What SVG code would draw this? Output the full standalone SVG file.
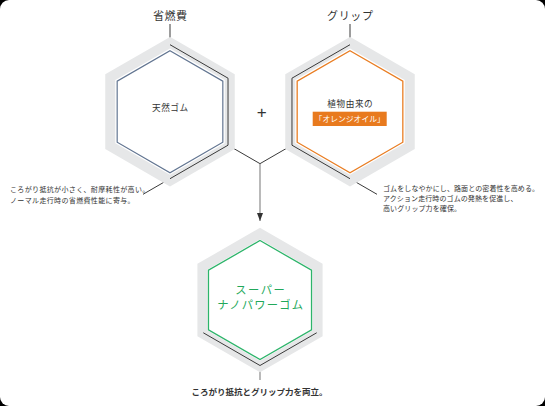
<svg xmlns="http://www.w3.org/2000/svg" width="545" height="406" viewBox="0 0 545 406">
<defs>
<style>
.band{fill:none;stroke:#e6e7e8;stroke-width:10;stroke-linejoin:miter}
.wire{fill:none;stroke:#3a3a3a;stroke-width:1}
.gwire{fill:none;stroke:#808080;stroke-width:1.1}
.jp{font-family:"Noto Sans CJK JP","Noto Sans",sans-serif;fill:#333}
.cap{font-size:7px;letter-spacing:0.35px}
.lbl{font-size:11px;letter-spacing:0.6px;text-anchor:middle}
</style>
<marker id="arr" viewBox="0 0 8 6" refX="8" refY="3" markerWidth="8" markerHeight="6" markerUnits="userSpaceOnUse" orient="auto">
<path d="M0,0 L8,3 L0,6 Z" fill="#333"/>
</marker>
</defs>
<rect width="545" height="406" fill="#000"/>
<rect width="545" height="406" rx="9" fill="#fff"/>

<g id="connectors">
<path class="wire" d="M170,24 V44.7 L228.02,78.2 V145.2 L143,194.3"/>
<path class="wire" d="M228.02,145.2 L260,163.66 L291.98,145.2"/>
<path class="wire" d="M350,24 V44.7 L291.98,78.2 V145.2 L377,194.3"/>
<path class="gwire" d="M260,163.66 V221" marker-end="url(#arr)"/>
<path class="wire" d="M203.28,332.75 L260,365.5 L316.72,332.75"/>
<path class="gwire" d="M260,365.5 V380"/>
</g>

<g id="node-left">
<polygon class="band" points="170,42.7 229.75,77.2 229.75,146.2 170,180.7 110.25,146.2 110.25,77.2"/>
<path class="wire" d="M170,44.7 L228.02,78.2 V145.2 L170,178.7"/>
<polygon fill="none" stroke="#627591" stroke-width="1.2" points="170,50.7 222.83,81.2 222.83,142.2 170,172.7 117.17,142.2 117.17,81.2"/>
<text class="jp lbl" x="170.3" y="20">省燃費</text>
<text class="jp" x="170.3" y="111" font-size="8.6" letter-spacing="0.5" text-anchor="middle">天然ゴム</text>
</g>

<g id="node-right">
<polygon class="band" points="350,42.7 409.75,77.2 409.75,146.2 350,180.7 290.25,146.2 290.25,77.2"/>
<path class="wire" d="M350,44.7 L291.98,78.2 V145.2 L350,178.7"/>
<polygon fill="none" stroke="#e97d22" stroke-width="1.3" points="350,50.7 402.83,81.2 402.83,142.2 350,172.7 297.17,142.2 297.17,81.2"/>
<text class="jp lbl" x="350.3" y="20">グリップ</text>
<text class="jp" x="350.3" y="107" font-size="8.6" letter-spacing="0.6" text-anchor="middle">植物由来の</text>
<rect x="312.7" y="111.7" width="74" height="14.3" fill="#e87a1e"/>
<text x="349.7" y="121.8" font-family="'Noto Sans CJK JP',sans-serif" font-size="7.8" fill="#fff" text-anchor="middle">「オレンジオイル」</text>
</g>

<g id="node-bottom">
<polygon class="band" points="260,233.5 317.59,266.75 317.59,333.25 260,366.5 202.41,333.25 202.41,266.75"/>
<path class="wire" d="M203.28,332.75 L260,365.5 L316.72,332.75"/>
<polygon fill="none" stroke="#2db46a" stroke-width="1.3" points="260,240.5 311.53,270.25 311.53,329.75 260,359.5 208.47,329.75 208.47,270.25"/>
<text class="jp" x="260.8" y="294" font-size="11.3" letter-spacing="1.5" text-anchor="middle" style="fill:#22a85a">スーパー</text>
<text class="jp" x="260.8" y="309" font-size="11.3" letter-spacing="1.2" text-anchor="middle" style="fill:#22a85a">ナノパワーゴム</text>
</g>

<g id="plus">
<text x="261.7" y="117.5" font-family="'Liberation Sans',sans-serif" font-size="17" fill="#333" text-anchor="middle">+</text>
</g>

<g id="caption-left">
<text class="jp cap" x="10" y="192">ころがり抵抗が小さく、耐摩耗性が高い。</text>
<text class="jp cap" x="10" y="202.5">ノーマル走行時の省燃費性能に寄与。</text>
</g>

<g id="caption-right">
<text class="jp cap" x="383" y="191" style="letter-spacing:0.1px">ゴムをしなやかにし、路面との密着性を高める。</text>
<text class="jp cap" x="383" y="201" style="letter-spacing:0.1px">アクション走行時のゴムの発熱を促進し、</text>
<text class="jp cap" x="383" y="211" style="letter-spacing:0.1px">高いグリップ力を確保。</text>
</g>

<g id="caption-bottom">
<text class="jp" x="259.5" y="394.5" font-size="8.5" font-weight="bold" text-anchor="middle">ころがり抵抗とグリップ力を両立。</text>
</g>
</svg>
